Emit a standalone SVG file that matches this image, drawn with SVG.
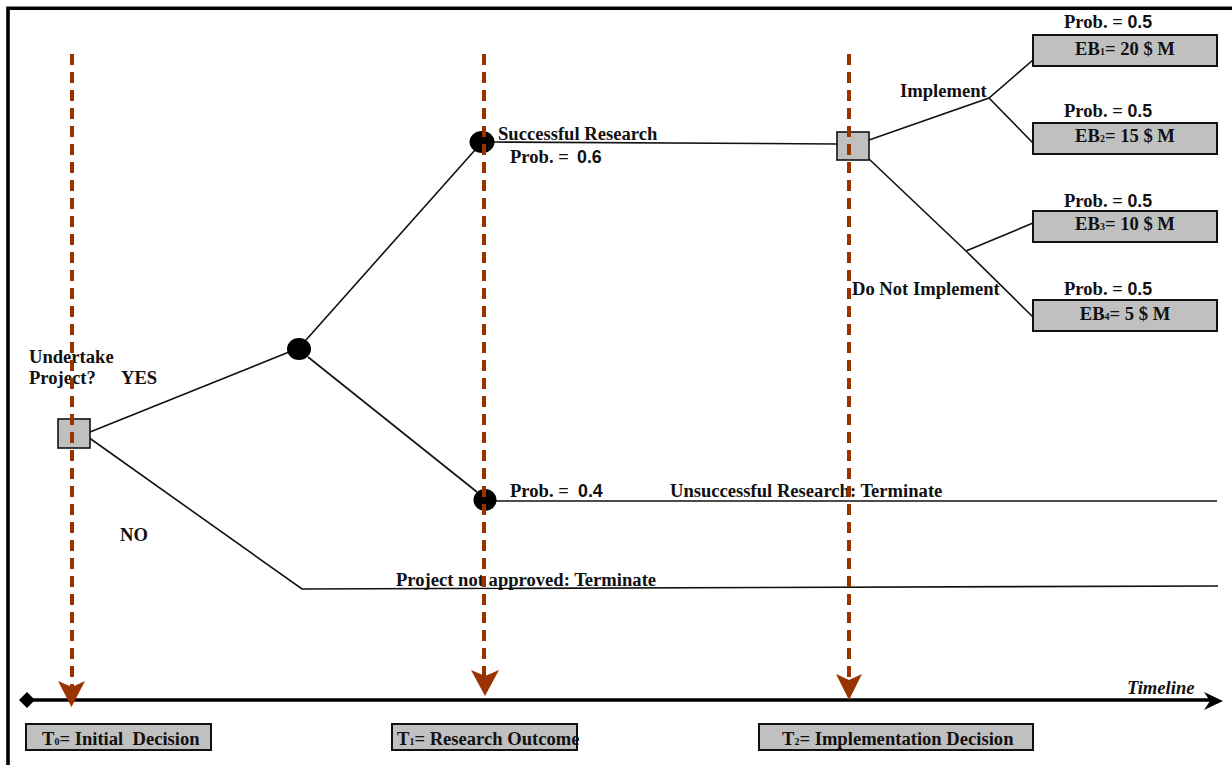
<svg xmlns="http://www.w3.org/2000/svg" width="1232" height="765" viewBox="0 0 1232 765">
<style>
.t{font-family:"Liberation Serif","Times New Roman",serif;font-weight:bold;font-size:18.6px;fill:#111}
.n{font-family:"Liberation Sans",Arial,sans-serif;font-weight:bold;font-size:17.8px}
.s{font-size:10px}
.box{fill:#c0c0c0;stroke:#111;stroke-width:2}
.sq{fill:#c0c0c0;stroke:#111;stroke-width:1.6}
.ln{fill:none;stroke:#111;stroke-width:1.6}
.dash{fill:none;stroke:#993300;stroke-width:4;stroke-dasharray:11 7}
.ah{fill:#993300}
</style>
<rect width="1232" height="765" fill="#fff"/>
<g id="frame">
<path d="M8 765 V8.3 H1232" fill="none" stroke="#000" stroke-width="3.6"/>
</g>
<g id="connectors">
<path class="ln" d="M90 432 L289 352"/>
<path class="ln" d="M306 340 L475 150"/>
<path class="ln" d="M308 357 L477 492"/>
<path class="ln" d="M88 437 L302 589 L1218 586"/>
<path class="ln" d="M496 501 L1217 501"/>
<path class="ln" d="M494 142 L837 144"/>
<path class="ln" d="M869 140 L989 98 L1033 60"/>
<path class="ln" d="M989 98 L1033 143"/>
<path class="ln" d="M869 159 L966 251 L1033 317"/>
<path class="ln" d="M966 251 L1033 223"/>
</g>
<g id="n-decision1"><rect class="sq" x="58" y="419" width="32" height="29"/></g>
<g id="n-chance1"><ellipse cx="299" cy="349" rx="12" ry="11" fill="#000"/></g>
<g id="n-success"><ellipse cx="482" cy="142" rx="12.5" ry="11" fill="#000"/></g>
<g id="n-fail"><ellipse cx="485" cy="500" rx="11.5" ry="11" fill="#000"/></g>
<g id="n-decision2"><rect class="sq" x="837" y="132" width="32" height="28"/></g>
<g id="n-eb1"><rect class="box" x="1033" y="35" width="184" height="31"/><text class="t" x="1125" y="55" text-anchor="middle">EB<tspan class="s">1</tspan>= 20 $ M</text></g>
<g id="n-eb2"><rect class="box" x="1033" y="123" width="184" height="31"/><text class="t" x="1125" y="142" text-anchor="middle">EB<tspan class="s">2</tspan>= 15 $ M</text></g>
<g id="n-eb3"><rect class="box" x="1033" y="211" width="184" height="31"/><text class="t" x="1125" y="230" text-anchor="middle">EB<tspan class="s">3</tspan>= 10 $ M</text></g>
<g id="n-eb4"><rect class="box" x="1033" y="300" width="184" height="31"/><text class="t" x="1125" y="320" text-anchor="middle">EB<tspan class="s">4</tspan>= 5 $ M</text></g>
<g id="labels">
<text class="t" x="29" y="363">Undertake</text>
<text class="t" x="29" y="384">Project?</text>
<text class="t" x="121" y="384">YES</text>
<text class="t" x="120" y="541">NO</text>
<text class="t" x="498" y="140">Successful Research</text>
<text class="t" x="510" y="163">Prob. =<tspan class="n" x="577">0.6</tspan></text>
<text class="t" x="510" y="497">Prob. =<tspan class="n" x="578">0.4</tspan></text>
<text class="t" x="670" y="497">Unsuccessful Research: Terminate</text>
<text class="t" x="396" y="586">Project not approved: Terminate</text>
<text class="t" x="900" y="97">Implement</text>
<text class="t" x="852" y="295">Do Not Implement</text>
<text class="t" x="1064" y="28">Prob. = <tspan class="n">0.5</tspan></text>
<text class="t" x="1064" y="117">Prob. = <tspan class="n">0.5</tspan></text>
<text class="t" x="1064" y="207">Prob. = <tspan class="n">0.5</tspan></text>
<text class="t" x="1064" y="295">Prob. = <tspan class="n">0.5</tspan></text>
</g>
<g id="timeline">
<path d="M27 700 H1210" stroke="#000" stroke-width="3.5" fill="none"/>
<path d="M19 700 L27 692 L35 700 L27 708 Z" fill="#000"/>
<path d="M1204 692 L1223 701 L1204 710 L1210 701 Z" fill="#000"/>
<text class="t" x="1127" y="694" font-style="italic">Timeline</text>
</g>
<g id="markers">
<path class="dash" d="M72 54 V687"/>
<path class="ah" d="M58 681 L72 687 L85 681 L71.5 707 Z"/>
<path class="dash" d="M484 54 V676"/>
<path class="ah" d="M471 670 L485 676 L499 670 L485 696 Z"/>
<path class="dash" d="M849 54 V680"/>
<path class="ah" d="M836 674 L849 680 L862 674 L849 700 Z"/>
</g>
<g id="n-t0"><rect class="box" x="26" y="724" width="185" height="26"/><text class="t" x="42" y="745" xml:space="preserve">T<tspan class="s">0</tspan>= Initial  Decision</text></g>
<g id="n-t1"><rect class="box" x="392" y="724" width="185" height="26"/><text class="t" x="397" y="745">T<tspan class="s">1</tspan>= Research Outcome</text></g>
<g id="n-t2"><rect class="box" x="759" y="724" width="274" height="26"/><text class="t" x="782" y="745">T<tspan class="s">2</tspan>= Implementation Decision</text></g>
</svg>
